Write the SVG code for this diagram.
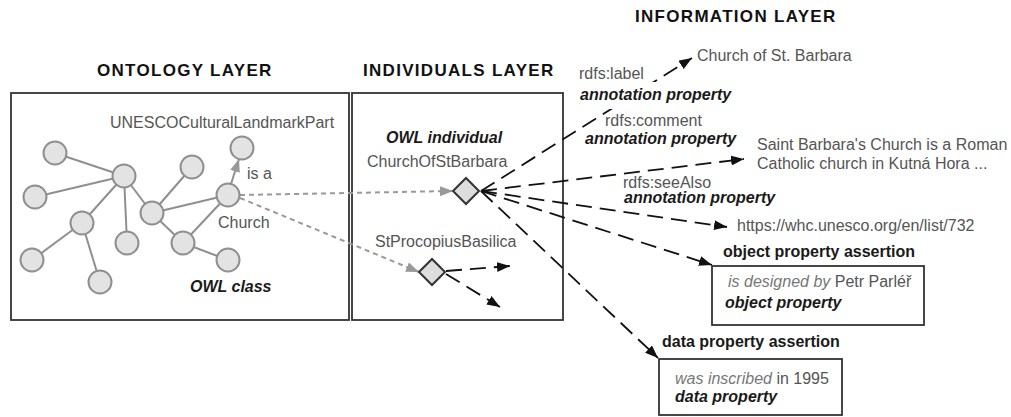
<svg xmlns="http://www.w3.org/2000/svg" width="1011" height="417" viewBox="0 0 1011 417">
<style>
text{font-family:"Liberation Sans",Arial,sans-serif;font-size:16px;fill:#555}
.hdr{font-weight:bold;fill:#111;font-size:17px;letter-spacing:1.3px}
.bi{font-weight:bold;font-style:italic;fill:#1a1a1a}
.b{font-weight:bold;fill:#1a1a1a}
.it{font-style:italic;fill:#777}
.box{fill:#fff;stroke:#333;stroke-width:1.8}
.node{fill:#e3e3e3;stroke:#8f8f8f;stroke-width:2}
.edge{stroke:#8f8f8f;stroke-width:2;fill:none}
.dot{stroke:#999;stroke-width:2;stroke-dasharray:5 4;fill:none}
.dash{stroke:#111;stroke-width:1.8;stroke-dasharray:16 8;fill:none}
.dia{fill:#ddd;stroke:#333;stroke-width:2}
</style>
<defs>
<marker id="ab" markerUnits="userSpaceOnUse" markerWidth="14" markerHeight="10" refX="13" refY="5" orient="auto"><path d="M0,0 L13,5 L0,10 z" fill="#111"/></marker>
<marker id="ag" markerUnits="userSpaceOnUse" markerWidth="14" markerHeight="10" refX="13" refY="5" orient="auto"><path d="M0,0 L13,5 L0,10 z" fill="#999"/></marker>
</defs>
<rect width="1011" height="417" fill="#fff"/>
<g id="layer-headers">
<text class="hdr" x="635" y="22">INFORMATION LAYER</text>
<text class="hdr" x="97" y="76">ONTOLOGY LAYER</text>
<text class="hdr" x="363" y="76">INDIVIDUALS LAYER</text>
</g>
<g id="ontology-layer">
<rect class="box" x="11" y="93" width="338" height="227"/>
<text x="110" y="128">UNESCOCulturalLandmarkPart</text>
<text class="bi" x="190" y="292">OWL class</text>
</g>
<g id="individuals-layer">
<rect class="box" x="352" y="93" width="211" height="227"/>
<text class="bi" x="386" y="143">OWL individual</text>
</g>
<g id="connectors">
<g id="ontology-edges">
<line class="edge" x1="124" y1="176" x2="55" y2="153"/>
<line class="edge" x1="124" y1="176" x2="35" y2="197"/>
<line class="edge" x1="124" y1="176" x2="82" y2="223"/>
<line class="edge" x1="124" y1="176" x2="127" y2="243"/>
<line class="edge" x1="124" y1="176" x2="152" y2="213"/>
<line class="edge" x1="82" y1="223" x2="32" y2="260"/>
<line class="edge" x1="82" y1="223" x2="100" y2="282"/>
<line class="edge" x1="152" y1="213" x2="192" y2="167"/>
<line class="edge" x1="152" y1="213" x2="228" y2="195"/>
<line class="edge" x1="152" y1="213" x2="183" y2="243"/>
<line class="edge" x1="183" y1="243" x2="228" y2="195"/>
<line class="edge" x1="183" y1="243" x2="228" y2="260"/>
<line class="edge" x1="231" y1="184" x2="239" y2="159" marker-end="url(#ag)"/>
</g>
<line class="dot" x1="240" y1="195" x2="453" y2="191" marker-end="url(#ag)"/>
<line class="dot" x1="240" y1="198" x2="419" y2="272" marker-end="url(#ag)"/>
<line class="dash" x1="481" y1="191" x2="692" y2="58" marker-end="url(#ab)"/>
<line class="dash" x1="481" y1="191" x2="744" y2="159" marker-end="url(#ab)"/>
<line class="dash" x1="481" y1="191" x2="727" y2="227" marker-end="url(#ab)"/>
<line class="dash" x1="481" y1="191" x2="712" y2="265" marker-end="url(#ab)"/>
<line class="dash" x1="481" y1="191" x2="658" y2="358" marker-end="url(#ab)"/>
<line class="dash" x1="446" y1="271" x2="510" y2="266" marker-end="url(#ab)"/>
<line class="dash" x1="446" y1="274" x2="500" y2="307" marker-end="url(#ab)"/>
</g>
<g id="class-nodes">
<circle class="node" cx="55" cy="153" r="11.5"/>
<circle class="node" cx="124" cy="176" r="11.5"/>
<circle class="node" cx="35" cy="197" r="11.5"/>
<circle class="node" cx="82" cy="223" r="11.5"/>
<circle class="node" cx="32" cy="260" r="11.5"/>
<circle class="node" cx="100" cy="282" r="11.5"/>
<circle class="node" cx="127" cy="243" r="11.5"/>
<circle class="node" cx="152" cy="213" r="11.5"/>
<circle class="node" cx="192" cy="167" r="11.5"/>
<circle class="node" cx="183" cy="243" r="11.5"/>
<circle class="node" cx="228" cy="260" r="11.5"/>
</g>
<g id="node-unesco">
<circle class="node" cx="242" cy="148" r="11.5"/>
</g>
<g id="node-church">
<circle class="node" cx="228" cy="195" r="11.5"/>
<text x="218" y="228">Church</text>
</g>
<g id="label-is-a"><text x="247" y="179">is a</text></g>
<g id="ind-church-of-st-barbara">
<text x="367" y="167">ChurchOfStBarbara</text>
<polygon class="dia" points="453,191 466,178 479,191 466,204"/>
</g>
<g id="ind-st-procopius">
<text x="375" y="247">StProcopiusBasilica</text>
<polygon class="dia" points="419,272 432,259 445,272 432,285"/>
</g>
<g id="info-label">
<rect x="576" y="82" width="156" height="27" fill="#fff"/>
<text x="579" y="79">rdfs:label</text>
<text class="bi" x="580" y="100">annotation property</text>
<text x="697" y="61">Church of St. Barbara</text>
</g>
<g id="info-comment">
<text x="605" y="126">rdfs:comment</text>
<text class="bi" x="585" y="144">annotation property</text>
<text x="757" y="150">Saint Barbara's Church is a Roman</text>
<text x="757" y="169">Catholic church in Kutná Hora ...</text>
</g>
<g id="info-seealso">
<text x="623" y="188">rdfs:seeAlso</text>
<text class="bi" x="624" y="203">annotation property</text>
<text x="737" y="231">https://whc.unesco.org/en/list/732</text>
</g>
<g id="info-object-property">
<text class="b" x="723" y="257">object property assertion</text>
<rect class="box" x="712" y="266" width="212" height="59"/>
<text x="728" y="287"><tspan class="it">is designed by</tspan> Petr Parléř</text>
<text class="bi" x="725" y="308">object property</text>
</g>
<g id="info-data-property">
<text class="b" x="662" y="347">data property assertion</text>
<rect class="box" x="659" y="359" width="183" height="56"/>
<text x="675" y="384"><tspan class="it">was inscribed</tspan> in 1995</text>
<text class="bi" x="675" y="402">data property</text>
</g>
</svg>
